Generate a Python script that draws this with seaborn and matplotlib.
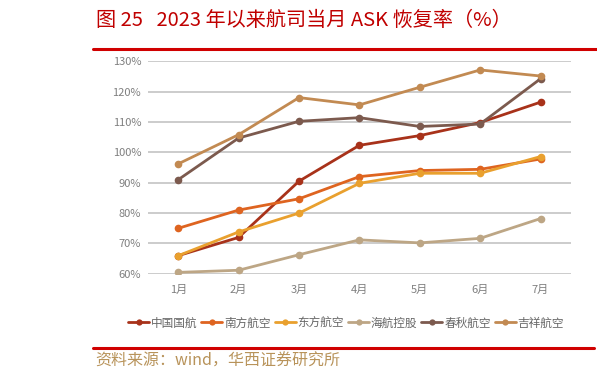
import matplotlib
matplotlib.use("Agg")
import matplotlib.pyplot as plt
import seaborn as sns
import pandas as pd
from matplotlib.lines import Line2D

months = ["1月", "2月", "3月", "4月", "5月", "6月", "7月"]
airlines = ["中国国航", "南方航空", "东方航空", "海航控股", "春秋航空", "吉祥航空"]
air_china = [66.0, 72.0, 90.5, 102.3, 105.5, 109.8, 116.5]
china_southern = [75.0, 81.0, 84.7, 92.0, 94.0, 94.4, 97.8]
china_eastern = [66.0, 73.8, 80.0, 89.8, 93.1, 93.1, 98.6]
hna = [60.5, 61.2, 66.3, 71.2, 70.2, 71.7, 78.2]
spring = [91.0, 104.7, 110.2, 111.4, 108.5, 109.3, 124.2]
juneyao = [96.2, 105.8, 118.0, 115.6, 121.4, 127.1, 125.1]
yticks = [60, 70, 80, 90, 100, 110, 120, 130]

series = [air_china, china_southern, china_eastern, hna, spring, juneyao]
colors = ["#A8321A", "#DE6420", "#E9A02E", "#BDA685", "#7C5A4E", "#C28A52"]

rows = []
for name, vals in zip(airlines, series):
    for i, v in enumerate(vals):
        rows.append({"month": i, "airline": name, "value": v})
df = pd.DataFrame(rows)

sns.set_theme(style="white")
plt.rcParams['font.family'] = ['Noto Sans CJK SC', 'DejaVu Sans']

fig = plt.figure(figsize=(5.97, 3.82), dpi=100)
ax = fig.add_axes([0.248, 0.283, 0.708, 0.557])

for y in yticks:
    ax.axhline(y, color="#C8C8C8", lw=1.3, zorder=0)

sns.lineplot(data=df, x="month", y="value", hue="airline", hue_order=airlines,
             palette=colors, marker="o", markersize=5.5, markeredgewidth=0,
             linewidth=2.0, ax=ax, legend=False, zorder=3)

ax.set_xlim(-0.5, 6.5)
ax.set_ylim(60, 130)
ax.set_xticks(range(len(months)))
ax.set_xticklabels(months)
ax.set_yticks(yticks)
ax.set_yticklabels([f"{v}%" for v in yticks])
ax.tick_params(axis="both", length=0, labelsize=8, labelcolor="#7F7F7F")
ax.tick_params(axis="x", pad=8)
ax.tick_params(axis="y", pad=5)
ax.set_xlabel("")
ax.set_ylabel("")
for s in ax.spines.values():
    s.set_visible(False)

handles = [Line2D([0], [0], color=c, lw=2.0, marker="o", markersize=4.5, markeredgewidth=0)
           for c in colors]
leg = fig.legend(handles, airlines, loc="center", bbox_to_anchor=(346/597, 1-323/382),
                 ncol=6, frameon=False, fontsize=8.4, handlelength=1.8,
                 handletextpad=0.15, columnspacing=0.35, labelcolor="#666666")

fig.text(96/597, 1-20/382, "图 25   2023 年以来航司当月 ASK 恢复率（%）",
         color="#C00000", fontsize=14.5, fontweight="light", ha="left", va="center")
fig.add_artist(Line2D([93/597, 1.0], [1-49/382, 1-49/382], color="#D00000", lw=2.2,
                      transform=fig.transFigure))
fig.add_artist(Line2D([93/597, 0.995], [1-348/382, 1-348/382], color="#D00000", lw=2.2,
                      transform=fig.transFigure))
fig.text(95/597, 1-361/382, "资料来源：wind，华西证券研究所", color="#B8935A",
         fontsize=11.5, fontweight="light", ha="left", va="center")

fig.savefig("out.png", dpi=100)
